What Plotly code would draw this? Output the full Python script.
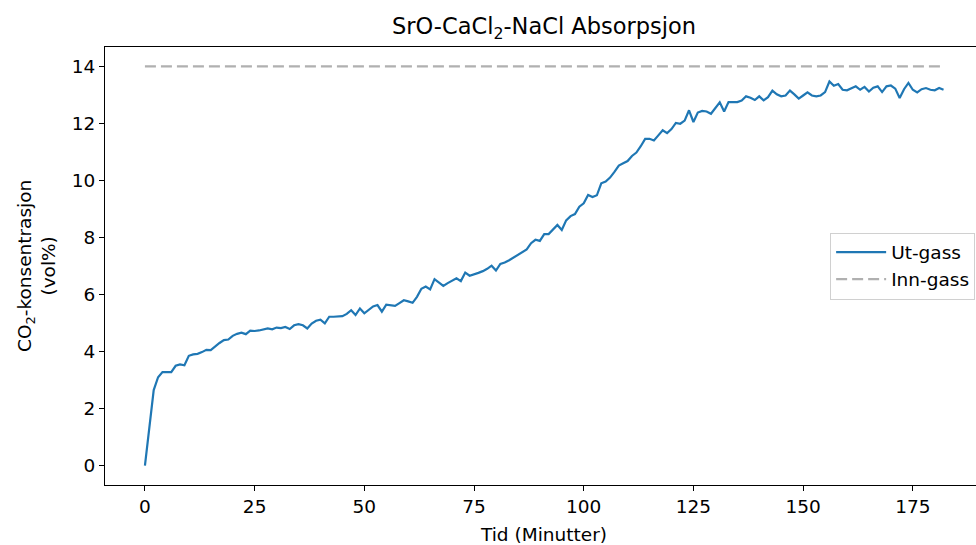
import plotly.graph_objects as go

# Measurement time (minutes) and outlet CO2 concentration (vol%)
tid = list(range(0, 183))
ut_gass = [
    0.00, 1.40, 2.65, 3.10, 3.28, 3.28, 3.28, 3.50, 3.55, 3.52,
    3.85, 3.90, 3.92, 3.98, 4.06, 4.05, 4.18, 4.30, 4.40, 4.42,
    4.55, 4.62, 4.66, 4.61, 4.73, 4.72, 4.74, 4.78, 4.81, 4.78,
    4.84, 4.82, 4.86, 4.79, 4.92, 4.96, 4.92, 4.81, 4.98, 5.08,
    5.12, 4.99, 5.22, 5.22, 5.22, 5.24, 5.32, 5.45, 5.28, 5.51,
    5.34, 5.45, 5.58, 5.63, 5.40, 5.64, 5.62, 5.60, 5.70, 5.80,
    5.76, 5.71, 5.92, 6.20, 6.28, 6.18, 6.54, 6.42, 6.30, 6.40,
    6.48, 6.57, 6.47, 6.77, 6.66, 6.70, 6.76, 6.82, 6.90, 7.01,
    6.84, 7.07, 7.12, 7.20, 7.30, 7.38, 7.48, 7.58, 7.80, 7.92,
    7.88, 8.12, 8.12, 8.28, 8.44, 8.26, 8.60, 8.75, 8.82, 9.08,
    9.20, 9.49, 9.42, 9.48, 9.90, 9.96, 10.10, 10.30, 10.52, 10.60,
    10.68, 10.86, 10.98, 11.20, 11.46, 11.46, 11.40, 11.58, 11.76, 11.66,
    11.80, 12.02, 11.99, 12.10, 12.46, 12.05, 12.38, 12.44, 12.42, 12.34,
    12.55, 12.74, 12.42, 12.75, 12.75, 12.75, 12.80, 12.95, 12.90, 12.82,
    12.95, 12.81, 12.92, 13.15, 13.02, 12.95, 12.98, 13.15, 13.02, 12.87,
    12.98, 13.09, 12.98, 12.95, 12.98, 13.10, 13.47, 13.32, 13.38, 13.18,
    13.16, 13.22, 13.30, 13.18, 13.28, 13.12, 13.25, 13.30, 13.10, 13.30,
    13.33, 13.22, 12.89, 13.20, 13.42, 13.18, 13.09, 13.20, 13.24, 13.18,
    13.16, 13.24, 13.18,
]
# Inlet CO2 concentration is constant
inn_gass = [14.0] * len(tid)

x_ticks = [0, 25, 50, 75, 100, 125, 150, 175]
y_ticks = [0, 2, 4, 6, 8, 10, 12, 14]

FONT = "DejaVu Sans"
BASE = 18.5
TITLE = 22.5

fig = go.Figure()
fig.add_trace(go.Scatter(
    x=tid, y=ut_gass, mode="lines", name="Ut-gass",
    line=dict(color="#1f77b4", width=2.2),
))
fig.add_trace(go.Scatter(
    x=tid, y=inn_gass, mode="lines", name="Inn-gass",
    line=dict(color="#b0b0b0", width=2.2, dash="11px,5px"),
))

axis_common = dict(
    showgrid=False, zeroline=False, showline=True, linecolor="#000000",
    linewidth=1.2, ticks="outside", ticklen=5, tickwidth=1.2,
    tickcolor="#000000", tickfont=dict(family=FONT, size=BASE, color="#000000"),
)

fig.update_layout(
    width=976, height=545,
    margin=dict(l=105, r=0, t=47, b=60),
    plot_bgcolor="white", paper_bgcolor="white",
    font=dict(family=FONT, size=BASE, color="#000000"),
    xaxis=dict(range=[-9.1, 189.4], tickvals=x_ticks, mirror=True, **axis_common),
    yaxis=dict(range=[-0.68, 14.68], tickvals=y_ticks, mirror=False, **axis_common),
    showlegend=True,
    legend=dict(
        x=0.999, xanchor="right", y=0.5, yanchor="middle",
        bgcolor="white", bordercolor="#d0d0d0", borderwidth=1,
        font=dict(family=FONT, size=BASE, color="#000000"),
        tracegroupgap=2, itemwidth=50,
    ),
    annotations=[
        dict(text="SrO-CaCl<sub>2</sub>-NaCl Absorpsjon", xref="paper", yref="paper",
             x=0.504, y=1.0, yshift=19, xanchor="center", yanchor="middle",
             showarrow=False, font=dict(family=FONT, size=TITLE, color="#000000")),
        dict(text="Tid (Minutter)", xref="paper", yref="paper",
             x=0.504, y=0, yshift=-49, xanchor="center", yanchor="middle",
             showarrow=False, font=dict(family=FONT, size=BASE, color="#000000")),
        dict(text="CO<sub>2</sub>-konsentrasjon<br>(vol%)", xref="paper", yref="paper",
             x=0, xshift=-69, y=0.5, xanchor="center", yanchor="middle",
             textangle=-90, showarrow=False,
             font=dict(family=FONT, size=BASE, color="#000000")),
    ],
)

fig.write_html("out.html")
